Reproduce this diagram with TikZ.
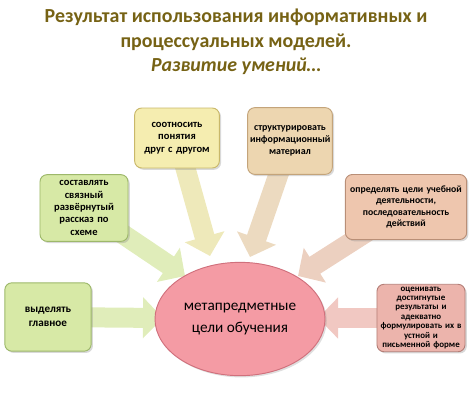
\documentclass[tikz,border=0pt]{standalone}
\usepackage{fontspec}
\setmainfont{Carlito}
\usepackage{xcolor}
\usetikzlibrary{arrows.meta}
\usetikzlibrary{shapes.geometric}
\usetikzlibrary{shadows}
\usetikzlibrary{backgrounds}

\definecolor{titlebrown}{RGB}{118,98,20}
\definecolor{greenfill}{RGB}{215,233,166}
\definecolor{greenline}{RGB}{157,184,106}
\definecolor{greenarrow}{RGB}{224,237,186}
\definecolor{yellowfill}{RGB}{245,237,176}
\definecolor{yellowline}{RGB}{201,184,106}
\definecolor{yellowarrow}{RGB}{238,233,186}
\definecolor{tanfill}{RGB}{237,214,176}
\definecolor{tanline}{RGB}{196,164,122}
\definecolor{tanarrow}{RGB}{236,218,192}
\definecolor{peachfill}{RGB}{238,198,174}
\definecolor{peachline}{RGB}{185,143,119}
\definecolor{peacharrow}{RGB}{236,208,192}
\definecolor{pinkfill}{RGB}{236,180,172}
\definecolor{pinkline}{RGB}{181,127,120}
\definecolor{pinkarrow}{RGB}{241,200,194}
\definecolor{goalfill}{RGB}{244,155,164}
\definecolor{goalline}{RGB}{208,112,124}

\tikzset{
  skillbox/.style={draw, rounded corners=6pt, align=center, line width=0.8pt,
    inner sep=2pt, font=\bfseries\fontsize{9}{10.5}\selectfont,
    drop shadow={shadow xshift=1.5pt, shadow yshift=-1.5pt, opacity=0.3}},
  bigarrow/.style={line width=0.6cm, -{Triangle[width=1.2cm,length=0.6cm]}},
}

\begin{document}
\begin{tikzpicture}[x=0.3mm,y=-0.3mm]
\useasboundingbox (0,0) rectangle (474,413);
%% title
\node[align=center, text=titlebrown, font=\bfseries\fontsize{17}{21}\selectfont] (title) at (236,42)
  {Результат использования информативных и\\ процессуальных моделей.\\ \textit{Развитие умений\dots}};
%% centre
\node[ellipse, draw=goalline, fill=goalfill, line width=0.8pt, minimum width=4.38cm, minimum height=3.4cm,
  align=center, font=\fontsize{13}{18.5}\selectfont,
  drop shadow={shadow xshift=1.5pt, shadow yshift=-1.5pt, opacity=0.25}] (goal) at (240,319)
  {метапредметные\\ цели обучения};
%% boxes
\node[skillbox, draw=greenline, fill=greenfill, text width=2.5cm, minimum height=2cm] (compose) at (84,208)
  {составлять\\ связный\\ развёрнутый\\ рассказ по\\ схеме};
\node[skillbox, draw=yellowline, fill=yellowfill, text width=2.4cm, minimum height=1.8cm] (relate) at (177,138)
  {соотносить\\ понятия\\ друг с другом};
\node[skillbox, draw=tanline, fill=tanfill, text width=2.4cm, minimum height=2cm,
  font=\bfseries\fontsize{8.5}{10}\selectfont] (structure) at (290,141)
  {структурировать\\ информационный\\ материал};
\node[skillbox, draw=peachline, fill=peachfill, text width=3.5cm, minimum height=1.95cm,
  font=\bfseries\fontsize{8.3}{9.8}\selectfont] (define) at (406,207)
  {определять цели учебной\\ деятельности,\\ последовательность\\ действий};
\node[skillbox, draw=greenline, fill=greenfill, text width=2.45cm, minimum height=2.05cm,
  font=\bfseries\fontsize{9.5}{11.5}\selectfont] (main) at (48,317)
  {выделять\\ главное};
\node[skillbox, draw=pinkline, fill=pinkfill, text width=2.5cm, minimum height=2cm,
  font=\bfseries\fontsize{7.6}{8.1}\selectfont] (assess) at (421,318)
  {оценивать\\ достигнутые\\ результаты и\\ адекватно\\ формулировать их в\\ устной и\\ письменной форме};
%% arrow tips
\coordinate (tipA) at (185,276);
\coordinate (tipB) at (210,256);
\coordinate (tipC) at (250,257);
\coordinate (tipD) at (298,276);
\coordinate (tipE) at (163,318);
\coordinate (tipF) at (318,318);
\begin{scope}[on background layer]
\foreach \from/\to/\col in {compose/tipA/greenarrow, relate/tipB/yellowarrow, structure/tipC/tanarrow,
    define/tipD/peacharrow, main/tipE/greenarrow, assess/tipF/pinkarrow}
  \draw[bigarrow, color=\col] (\from.center) -- (\to);
\end{scope}
\end{tikzpicture}
\end{document}
